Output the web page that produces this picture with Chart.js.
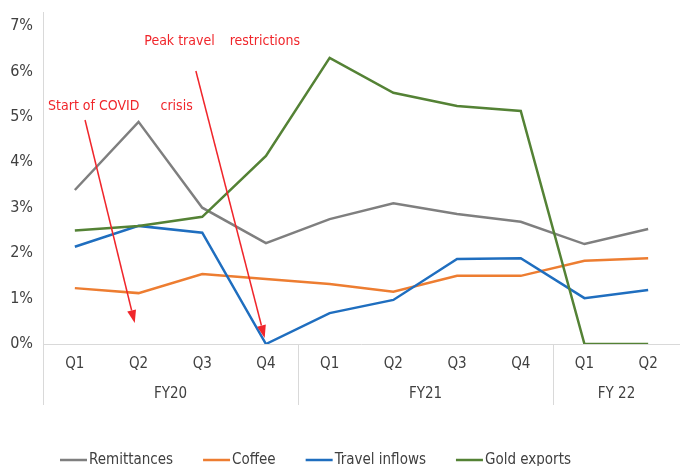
<!DOCTYPE html>
<html>
<head>
<meta charset="utf-8">
<script src="https://cdn.jsdelivr.net/npm/chart.js@4.4.0/dist/chart.umd.min.js"></script>
<style>
  html, body { margin: 0; padding: 0; background: #fff; }
  #wrap { width: 680px; height: 466px; }
</style>
</head>
<body>
<div id="wrap"><canvas id="chart" width="680" height="466"></canvas></div>
<script>
// Quarterly shares (%) by source
const quarters = ['Q1', 'Q2', 'Q3', 'Q4', 'Q1', 'Q2', 'Q3', 'Q4', 'Q1', 'Q2'];
const fiscalYears = ['FY20', 'FY21', 'FY 22'];
const quartersPerYear = [4, 4, 2];
const remittances = [3.39, 4.89, 3.0, 2.22, 2.75, 3.1, 2.86, 2.69, 2.2, 2.53];
const coffee = [1.23, 1.12, 1.54, 1.43, 1.32, 1.15, 1.5, 1.5, 1.83, 1.89];
const travelInflows = [2.14, 2.6, 2.45, 0, 0.68, 0.97, 1.87, 1.89, 1.01, 1.19];
const goldExports = [2.5, 2.6, 2.8, 4.14, 6.3, 5.53, 5.24, 5.13, 0, 0];

const fontFamily = '"Liberation Sans Narrow", "DejaVu Sans Condensed", sans-serif';
const textColor = '#404040';
const axisColor = '#d9d9d9';
const noteColor = '#f0262b';

// Event call-outs, placed in data space (category index, value)
const notes = [
    { parts: ['Start of COVID', 'crisis'], gap: 21, at: [-0.42, 5.24], from: [0.16, 4.93], to: [0.94, 0.46] },
    { parts: ['Peak travel', 'restrictions'], gap: 15, at: [1.09, 6.67], from: [1.9, 6.01], to: [2.98, 0.13] }
];

const xPos = (scale, v) => {
    const a = scale.getPixelForValue(0);
    const b = scale.getPixelForValue(1);
    return a + (b - a) * v;
};

const drawArrow = (ctx, x1, y1, x2, y2) => {
    const angle = Math.atan2(y2 - y1, x2 - x1);
    const headLen = 13, headW = 4.5;
    const bx = x2 - headLen * Math.cos(angle);
    const by = y2 - headLen * Math.sin(angle);
    ctx.beginPath();
    ctx.moveTo(x1, y1);
    ctx.lineTo(bx, by);
    ctx.stroke();
    ctx.beginPath();
    ctx.moveTo(x2, y2);
    ctx.lineTo(bx + headW * Math.sin(angle), by - headW * Math.cos(angle));
    ctx.lineTo(bx - headW * Math.sin(angle), by + headW * Math.cos(angle));
    ctx.closePath();
    ctx.fill();
};

const decorations = {
    id: 'decorations',
    afterDraw(chart) {
        const { ctx, chartArea, scales: { x, y } } = chart;
        const lowerEdge = 405;
        ctx.save();

        // left axis line and fiscal-year separators
        ctx.strokeStyle = axisColor;
        ctx.lineWidth = 1;
        ctx.beginPath();
        ctx.moveTo(chartArea.left + 0.5, 12);
        ctx.lineTo(chartArea.left + 0.5, lowerEdge);
        ctx.stroke();

        ctx.font = '15px ' + fontFamily;
        ctx.fillStyle = textColor;
        ctx.textAlign = 'center';
        ctx.textBaseline = 'middle';
        let start = 0;
        let leftEdge = chartArea.left;
        quartersPerYear.forEach((n, i) => {
            const end = start + n;
            const rightEdge = end >= quarters.length ? chartArea.right : Math.round(xPos(x, end - 0.5));
            if (end < quarters.length) {
                ctx.beginPath();
                ctx.moveTo(rightEdge + 0.5, chartArea.bottom);
                ctx.lineTo(rightEdge + 0.5, lowerEdge);
                ctx.stroke();
            }
            ctx.fillText(fiscalYears[i], (leftEdge + rightEdge) / 2, 394);
            leftEdge = rightEdge;
            start = end;
        });

        // call-outs
        ctx.font = '14px ' + fontFamily;
        ctx.fillStyle = noteColor;
        ctx.strokeStyle = noteColor;
        ctx.lineWidth = 1.5;
        ctx.textAlign = 'left';
        notes.forEach(note => {
            let tx = xPos(x, note.at[0]);
            const ty = y.getPixelForValue(note.at[1]);
            note.parts.forEach(p => {
                ctx.fillText(p, tx, ty);
                tx += ctx.measureText(p).width + note.gap;
            });
            drawArrow(ctx,
                xPos(x, note.from[0]), y.getPixelForValue(note.from[1]),
                xPos(x, note.to[0]), y.getPixelForValue(note.to[1]));
        });

        // legend row
        ctx.font = '15px ' + fontFamily;
        ctx.fillStyle = textColor;
        let lx = 60;
        const ly = 460;
        chart.data.datasets.forEach(ds => {
            ctx.strokeStyle = ds.borderColor;
            ctx.lineWidth = ds.borderWidth;
            ctx.beginPath();
            ctx.moveTo(lx, ly);
            ctx.lineTo(lx + 27, ly);
            ctx.stroke();
            ctx.fillText(ds.label, lx + 29, ly);
            lx += 29 + ctx.measureText(ds.label).width + 30;
        });
        ctx.restore();
    }
};

const series = (label, data, color, order) => ({
    label, data, order,
    borderColor: color,
    backgroundColor: color,
    borderWidth: 2.5,
    pointRadius: 0,
    tension: 0,
    fill: false
});

new Chart(document.getElementById('chart'), {
    type: 'line',
    data: {
        labels: quarters,
        datasets: [
            series('Remittances', remittances, '#7f7f7f', 3),
            series('Coffee', coffee, '#ed7d31', 2),
            series('Travel inflows', travelInflows, '#1f6ebf', 1),
            series('Gold exports', goldExports, '#548235', 0)
        ]
    },
    options: {
        responsive: false,
        animation: false,
        devicePixelRatio: 1,
        layout: { padding: { top: 26, right: -4, bottom: 0, left: 0 } },
        plugins: {
            legend: { display: false },
            tooltip: { enabled: false }
        },
        scales: {
            x: {
                offset: true,
                grid: { display: false },
                border: { display: false },
                ticks: {
                    color: textColor,
                    font: { family: fontFamily, size: 15 },
                    padding: 3,
                    maxRotation: 0,
                    autoSkip: false
                },
                afterFit: s => { s.height = 122; }
            },
            y: {
                min: 0,
                max: 7,
                grid: {
                    color: c => c.tick.value === 0 ? axisColor : 'transparent',
                    drawTicks: false
                },
                border: { display: false },
                ticks: {
                    stepSize: 1,
                    color: textColor,
                    font: { family: fontFamily, size: 16 },
                    padding: 10,
                    callback: v => v + '%'
                },
                afterFit: s => { s.width = 43; }
            }
        }
    },
    plugins: [decorations]
});
</script>
</body>
</html>
